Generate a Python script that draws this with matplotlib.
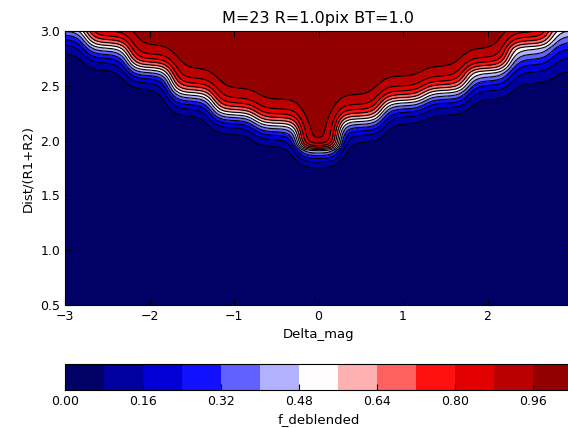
import numpy as np
import matplotlib
matplotlib.use('Agg')
import matplotlib.pyplot as plt

# position of the white (f~0.5) band at every half magnitude
dmag_nodes = [-3.0, -2.5, -2.0, -1.5, -1.0, -0.5, 0.0, 0.5, 1.0, 1.5, 2.0, 2.5, 3.0]
dist_half = [3.04, 2.85, 2.65, 2.42, 2.24, 2.14, 1.91, 2.18, 2.35, 2.44, 2.62, 2.84, 3.02]
# spread of the transition below and above the white band at each node
spread_lo = [0.10, 0.085, 0.075, 0.08, 0.075, 0.08, 0.065, 0.08, 0.08, 0.085, 0.10, 0.13, 0.16]
spread_hi = [0.08, 0.075, 0.07, 0.075, 0.075, 0.075, 0.03, 0.075, 0.075, 0.075, 0.07, 0.075, 0.08]
# how far along Delta_mag each node's profile reaches
reach = [0.17, 0.17, 0.17, 0.17, 0.17, 0.17, 0.15, 0.17, 0.17, 0.17, 0.17, 0.17, 0.17]
levels = np.arange(0, 1.05, 0.08)

##

dm = np.linspace(-3, 3, 361)
dist = np.linspace(0.5, 3.0, 301)
X, Y = np.meshgrid(dm, dist)
num = np.zeros_like(X)
den = np.zeros_like(X)
for x0, b, slo, shi, r in zip(dmag_nodes, dist_half, spread_lo, spread_hi, reach):
    w = np.exp(-0.5*((X-x0)/r)**2)
    z = (Y-b)/np.where(Y > b, shi, slo)
    num += w/(1+np.exp(-z))
    den += w
frac = num/den

##

fig = plt.figure(figsize=(5.68, 4.28), dpi=100)
ax = fig.add_axes([65/568., 1-305/428., 507/568., 274/428.])
cf = ax.contourf(X, Y, frac, levels, cmap='seismic')
ax.contour(X, Y, frac, levels, colors='k', linewidths=0.8)
ax.set_xlim(-3, 3)
ax.set_ylim(0.5, 3.0)
ax.set_xticks([-3, -2, -1, 0, 1, 2])
ax.set_yticks([0.5, 1.0, 1.5, 2.0, 2.5, 3.0])
ax.tick_params(direction='in', top=True, right=True, length=4, labelsize=9)
ax.set_xlabel('Delta_mag', fontsize=9.5)
ax.set_ylabel('Dist/(R1+R2)', fontsize=9.5)
ax.set_title('M=23 R=1.0pix BT=1.0', fontsize=11.5)

cax = fig.add_axes([65/568., 1-390/428., 507/568., 26/428.])
cb = fig.colorbar(cf, cax=cax, orientation='horizontal', ticks=levels[::2], format='%.2f')
cax.tick_params(direction='in', length=4, labelsize=9)
cb.set_label('f_deblended', fontsize=9.5)

fig.savefig('out.png', dpi=100)
